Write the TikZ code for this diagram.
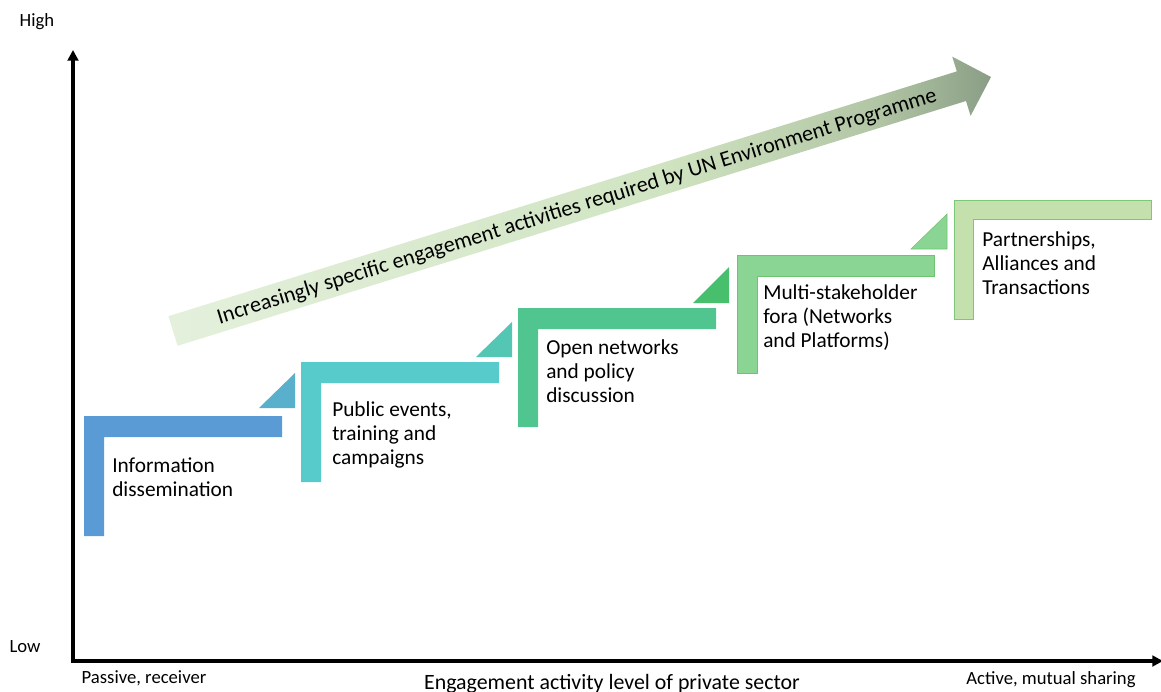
\documentclass[tikz,border=0pt]{standalone}
\usepackage{fontspec}
\setmainfont{Carlito}
\usetikzlibrary{arrows.meta}
\definecolor{stepA}{HTML}{5B9BD5}
\definecolor{triA}{HTML}{58B0CC}
\definecolor{stepB}{HTML}{57CBCC}
\definecolor{triB}{HTML}{53C7B3}
\definecolor{stepC}{HTML}{50C58F}
\definecolor{triC}{HTML}{48BF6C}
\definecolor{stepD}{HTML}{8BD594}
\definecolor{edgeD}{HTML}{6EC470}
\definecolor{stepE}{HTML}{C3E0AD}
\definecolor{edgeE}{HTML}{7DC878}
\definecolor{arrA}{HTML}{E4F0DC}
\definecolor{arrB}{HTML}{D0E4C2}
\definecolor{arrC}{HTML}{B2C6A5}
\definecolor{arrD}{HTML}{8A9E86}
\pgfdeclarehorizontalshading{trendfade}{100bp}{color(0bp)=(arrA); color(25bp)=(arrA); color(55bp)=(arrB); color(68bp)=(arrC); color(75bp)=(arrD); color(100bp)=(arrD)}

\begin{document}
\begin{tikzpicture}[x=0.75pt,y=0.75pt,yscale=-1,
	lbl/.style={anchor=north west,inner sep=0pt,align=left,font=\fontsize{16}{18.2}\selectfont},
	axlbl/.style={inner sep=0pt,font=\fontsize{14}{16}\selectfont}]
		\useasboundingbox (0,0) rectangle (1161,692);

		%trend arrow
		\shade[shading=trendfade] (168.4,316.2) -- (956.8,71.4) -- (952.2,56.6) -- (991,77) -- (970.6,115.8) -- (966,101) -- (177.6,345.8) -- cycle;
		\node (trend) [rotate=17.25,inner sep=0pt,font=\fontsize{16.6}{18}\selectfont] at (577,207) {Increasingly specific engagement activities required by UN Environment Programme};

		%steps
		\fill[stepA] (84,416) -- (282,416) -- (282,437) -- (104,437) -- (104,536) -- (84,536) -- cycle;
		\fill[triA] (259,408) -- (295,408) -- (295,373) -- cycle;
		\fill[stepB] (301,362) -- (499,362) -- (499,383) -- (321,383) -- (321,482) -- (301,482) -- cycle;
		\fill[triB] (476,357) -- (512,357) -- (512,322) -- cycle;
		\fill[stepC] (518,308) -- (716,308) -- (716,329) -- (538,329) -- (538,427) -- (518,427) -- cycle;
		\fill[triC] (693,303) -- (729,303) -- (729,267) -- cycle;
		\filldraw[fill=stepD,draw=edgeD] (737,255) -- (934,255) -- (934,276) -- (757,276) -- (757,373) -- (737,373) -- cycle;
		\filldraw[fill=stepD,draw=edgeD] (911,249) -- (947,249) -- (947,214) -- cycle;
		\filldraw[fill=stepE,draw=edgeE] (954,200) -- (1151,200) -- (1151,219) -- (973,219) -- (973,319) -- (954,319) -- cycle;

		\node (info) [lbl] at (112,457) {Information\\dissemination};
		\node (events) [lbl] at (332,401) {Public events,\\training and\\campaigns};
		\node (open) [lbl] at (546,339) {Open networks\\and policy\\discussion};
		\node (multi) [lbl] at (763,284) {Multi-stakeholder\\fora (Networks\\and Platforms)};
		\node (partner) [lbl] at (982,231) {Partnerships,\\Alliances and\\Transactions};

		%axes
		\coordinate (o) at (73,661);
		\coordinate (ytop) at (73,50);
		\coordinate (xend) at (1163,661);
		\draw[line width=2.6pt,{Triangle[length=8pt,width=8pt]}-{Triangle[length=8pt,width=8pt]}] (ytop) -- (o) -- (xend);

		\node (high) [axlbl] at (37,22) {High};
		\node (low) [axlbl] at (25,647) {Low};
		\node (passive) [axlbl] at (144,678) {Passive, receiver};
		\node (active) [axlbl] at (1051,680) {Active, mutual sharing};
		\node (level) [inner sep=0pt,font=\fontsize{16.4}{18}\selectfont] at (612,684) {Engagement activity level of private sector};
\end{tikzpicture}
\end{document}
